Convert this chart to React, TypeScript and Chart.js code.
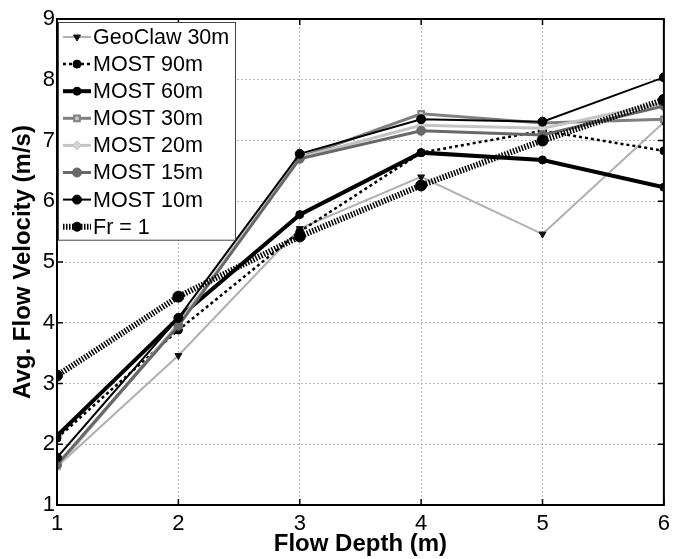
import React, { useEffect, useRef } from "react";
import { Chart, registerables } from "chart.js";
import { drawPoint } from "chart.js/helpers";

Chart.register(...registerables);

const depths = [1, 2, 3, 4, 5, 6];
const geoclaw30 = [1.63, 3.46, 5.55, 6.4, 5.46, 7.3];
const most90 = [2.1, 3.88, 5.5, 6.8, 7.16, 6.83];
const most60 = [2.14, 4.08, 5.78, 6.8, 6.68, 6.23];
const most30 = [1.64, 3.97, 6.72, 7.44, 7.29, 7.35];
const most20 = [1.62, 3.98, 6.72, 7.25, 7.2, 7.62];
const most15 = [1.66, 3.95, 6.7, 7.16, 7.09, 7.57];
const most10 = [1.78, 4.08, 6.78, 7.35, 7.31, 8.04];
const froude1 = [3.13, 4.43, 5.42, 6.26, 7.0, 7.67];

const seriesLabels = [
  "GeoClaw 30m",
  "MOST 90m",
  "MOST 60m",
  "MOST 30m",
  "MOST 20m",
  "MOST 15m",
  "MOST 10m",
  "Fr = 1",
];
const xTicks = [1, 2, 3, 4, 5, 6];
const yTicks = [1, 2, 3, 4, 5, 6, 7, 8, 9];

const FONT = "'Liberation Sans', Arial, sans-serif";

const toXY = (ys: number[]) => ys.map((y, i) => ({ x: depths[i], y }));

const styles = [
  { borderColor: "#b0b0b0", borderWidth: 2, borderDash: [], pointStyle: "triangle", pointRotation: 180, pointRadius: 4, pointBackgroundColor: "#111", pointBorderColor: "#111", pointBorderWidth: 1 },
  { borderColor: "#000", borderWidth: 2.5, borderDash: [3, 3], pointStyle: "circle", pointRotation: 0, pointRadius: 4, pointBackgroundColor: "#000", pointBorderColor: "#000", pointBorderWidth: 1 },
  { borderColor: "#000", borderWidth: 4, borderDash: [], pointStyle: "circle", pointRotation: 0, pointRadius: 4, pointBackgroundColor: "#000", pointBorderColor: "#000", pointBorderWidth: 1 },
  { borderColor: "#808080", borderWidth: 3, borderDash: [], pointStyle: "rect", pointRotation: 0, pointRadius: 4, pointBackgroundColor: "#c8c8c8", pointBorderColor: "#808080", pointBorderWidth: 2 },
  { borderColor: "#c4c4c4", borderWidth: 3, borderDash: [], pointStyle: "rectRot", pointRotation: 0, pointRadius: 4.5, pointBackgroundColor: "#d4d4d4", pointBorderColor: "#c4c4c4", pointBorderWidth: 1 },
  { borderColor: "#686868", borderWidth: 3, borderDash: [], pointStyle: "circle", pointRotation: 0, pointRadius: 4.5, pointBackgroundColor: "#686868", pointBorderColor: "#686868", pointBorderWidth: 1 },
  { borderColor: "#000", borderWidth: 2, borderDash: [], pointStyle: "circle", pointRotation: 0, pointRadius: 4.5, pointBackgroundColor: "#000", pointBorderColor: "#000", pointBorderWidth: 1 },
  { borderColor: "#000", borderWidth: 6, borderDash: [1.5, 1.5], pointStyle: "circle", pointRotation: 0, pointRadius: 5.5, pointBackgroundColor: "#000", pointBorderColor: "#000", pointBorderWidth: 1 },
];

const frameAndLegend = {
  id: "frameAndLegend",
  afterDatasetsDraw(chart: any) {
    const { ctx, chartArea } = chart;
    const xs = chart.scales.x;
    const ys = chart.scales.y;
    ctx.save();
    // frame
    ctx.setLineDash([]);
    ctx.strokeStyle = "#000";
    ctx.lineWidth = 2;
    ctx.strokeRect(chartArea.left, chartArea.top, chartArea.right - chartArea.left, chartArea.bottom - chartArea.top);
    // inward ticks
    const tl = 6;
    ctx.lineWidth = 1.5;
    ctx.beginPath();
    xTicks.forEach((v) => {
      const px = xs.getPixelForValue(v);
      ctx.moveTo(px, chartArea.bottom);
      ctx.lineTo(px, chartArea.bottom - tl);
      ctx.moveTo(px, chartArea.top);
      ctx.lineTo(px, chartArea.top + tl);
    });
    yTicks.forEach((v) => {
      const py = ys.getPixelForValue(v);
      ctx.moveTo(chartArea.left, py);
      ctx.lineTo(chartArea.left + tl, py);
      ctx.moveTo(chartArea.right, py);
      ctx.lineTo(chartArea.right - tl, py);
    });
    ctx.stroke();

    // legend
    const boxL = chartArea.left + 1;
    const boxT = 22;
    const boxR = 235;
    const rowH = 27.1;
    const firstRow = 37;
    const boxB = firstRow + rowH * 7 + 13;
    ctx.fillStyle = "#fff";
    ctx.fillRect(boxL, boxT, boxR - boxL, boxB - boxT);
    ctx.strokeStyle = "#444";
    ctx.lineWidth = 1;
    ctx.strokeRect(boxL + 0.5, boxT + 0.5, boxR - boxL, boxB - boxT);
    chart.data.datasets.forEach((ds: any, i: number) => {
      const y = firstRow + i * rowH;
      ctx.setLineDash(ds.borderDash || []);
      ctx.strokeStyle = ds.borderColor;
      ctx.lineWidth = ds.borderWidth;
      ctx.beginPath();
      ctx.moveTo(63, y);
      ctx.lineTo(91, y);
      ctx.stroke();
      ctx.setLineDash([]);
      ctx.fillStyle = ds.pointBackgroundColor;
      ctx.strokeStyle = ds.pointBorderColor;
      ctx.lineWidth = ds.pointBorderWidth;
      drawPoint(ctx, { pointStyle: ds.pointStyle, radius: Math.min(ds.pointRadius, 4.5), rotation: ds.pointRotation, borderWidth: ds.pointBorderWidth }, 77, y);
      ctx.fillStyle = "#000";
      ctx.font = `21.5px ${FONT}`;
      ctx.textAlign = "left";
      ctx.textBaseline = "middle";
      ctx.fillText(ds.label, 93, y + 1);
    });
    ctx.restore();
  },
};

export default function App() {
  const ref = useRef<HTMLCanvasElement | null>(null);
  useEffect(() => {
    if (!ref.current) return;
    const all = [geoclaw30, most90, most60, most30, most20, most15, most10, froude1];
    const n = all.length;
    const chart = new Chart(ref.current, {
      type: "line",
      data: {
        datasets: all.map((vals, i) => ({
          label: seriesLabels[i],
          data: toXY(vals),
          fill: false,
          tension: 0,
          order: n - i,
          ...styles[i],
        })) as any,
      },
      options: {
        animation: false,
        responsive: false,
        maintainAspectRatio: false,
        layout: { padding: { top: 19, right: 6, left: 0, bottom: 0 } },
        plugins: { legend: { display: false }, tooltip: { enabled: false } },
        scales: {
          x: {
            type: "linear",
            min: 1,
            max: 6,
            afterFit: (s: any) => { s.height = 54; },
            afterBuildTicks: (s: any) => { s.ticks = xTicks.map((v) => ({ value: v })); },
            ticks: { color: "#000", font: { size: 22, family: FONT }, padding: 6, maxRotation: 0 },
            grid: { color: "#b8b8b8", lineWidth: 1, drawTicks: false },
            border: { display: false, dash: [2, 2] },
            title: { display: true, text: "Flow Depth (m)", color: "#000", font: { size: 24, weight: "bold", family: FONT, lineHeight: 1.2 }, padding: { top: 0, bottom: 0 } },
          },
          y: {
            type: "linear",
            min: 1,
            max: 9,
            afterFit: (s: any) => { s.width = 57; },
            afterBuildTicks: (s: any) => { s.ticks = yTicks.map((v) => ({ value: v })); },
            ticks: { color: "#000", font: { size: 22, family: FONT }, padding: 2 },
            grid: { color: "#b8b8b8", lineWidth: 1, drawTicks: false },
            border: { display: false, dash: [2, 2] },
            title: { display: true, text: "Avg. Flow Velocity (m/s)", color: "#000", font: { size: 24, weight: "bold", family: FONT, lineHeight: 1.2 }, padding: { top: 9, bottom: 0 } },
          },
        },
      },
      plugins: [frameAndLegend],
    } as any);
    return () => chart.destroy();
  }, []);
  return (
    <div style={{ position: "fixed", left: 0, top: 0, width: 676, height: 559, background: "#fff" }}>
      <canvas ref={ref} width={676} height={559} />
    </div>
  );
}
